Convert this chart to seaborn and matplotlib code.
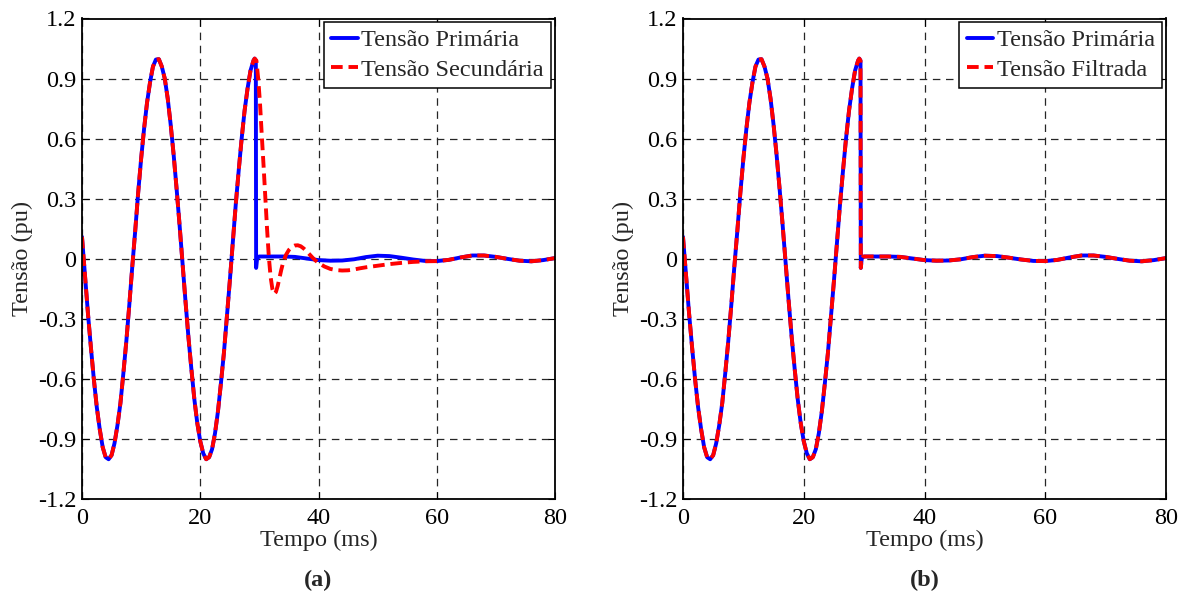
import numpy as np
import pandas as pd
import seaborn as sns
import matplotlib.pyplot as plt

# tempo (ms) e tensao (pu)
t_pre = [0.0, 0.5, 1.0, 1.5, 2.0, 2.5, 3.0, 3.5, 4.0, 4.5, 5.0, 5.5, 6.0, 6.5,
         7.0, 7.5, 8.0, 8.5, 9.0, 9.5, 10.0, 10.5, 11.0, 11.5, 12.0, 12.5,
         13.0, 13.5, 14.0, 14.5, 15.0, 15.5, 16.0, 16.5, 17.0, 17.5, 18.0,
         18.5, 19.0, 19.5, 20.0, 20.5, 21.0, 21.5, 22.0, 22.5, 23.0, 23.5,
         24.0, 24.5, 25.0, 25.5, 26.0, 26.5, 27.0, 27.5, 28.0, 28.5, 29.0, 29.2]
v_pre = [0.11, -0.08, -0.27, -0.44, -0.60, -0.74, -0.85, -0.94, -0.99, -1.00,
         -0.98, -0.92, -0.83, -0.72, -0.57, -0.41, -0.23, -0.04, 0.14, 0.33,
         0.50, 0.65, 0.78, 0.88, 0.96, 0.995, 0.997, 0.96, 0.90, 0.80, 0.67,
         0.52, 0.35, 0.17, -0.02, -0.21, -0.39, -0.55, -0.70, -0.82, -0.91,
         -0.97, -1.00, -0.99, -0.95, -0.87, -0.76, -0.62, -0.47, -0.29, -0.11,
         0.08, 0.27, 0.44, 0.60, 0.74, 0.85, 0.94, 0.99, 1.00]

# tensao primaria depois da falta
t_prim_pos = [29.4, 29.45, 29.6, 29.8, 30, 32, 34, 36, 38, 40, 42, 44, 46, 48,
              50, 52, 54, 56, 58, 60, 62, 64, 66, 68, 70, 72, 74, 76, 78, 80]
v_prim_pos = [0.99, -0.045, 0.0, 0.01, 0.012, 0.012, 0.012, 0.010, 0.002,
              -0.006, -0.009, -0.008, -0.002, 0.009, 0.016, 0.014, 0.006,
              -0.003, -0.010, -0.011, -0.005, 0.007, 0.017, 0.017, 0.010,
              0.000, -0.009, -0.012, -0.006, 0.004]

# tensao secundaria (TP capacitivo) depois da falta
t_sec_pos = [29.5, 29.8, 30.1, 30.4, 30.7, 31.0, 31.3, 31.6, 31.9, 32.2, 32.5,
             32.8, 33.1, 33.4, 33.7, 34.0, 34.5, 35.0, 35.5, 36.0, 36.5, 37.0,
             37.5, 38.0, 38.5, 39.0, 39.5, 40.0, 41.0, 42.0, 43.0, 44.0, 45.0,
             46.0, 47.0, 48.0, 49.0, 50.0, 52.0, 54.0, 56.0, 58.0, 60.0, 62,
             64, 66, 68, 70, 72, 74, 76, 78, 80]
v_sec_pos = [0.99, 0.90, 0.78, 0.62, 0.47, 0.31, 0.15, 0.01, -0.09, -0.15,
             -0.175, -0.165, -0.135, -0.095, -0.055, -0.02, 0.02, 0.045, 0.06,
             0.067, 0.068, 0.063, 0.052, 0.038, 0.022, 0.006, -0.008, -0.02,
             -0.038, -0.05, -0.056, -0.058, -0.057, -0.053, -0.047, -0.042,
             -0.038, -0.034, -0.026, -0.02, -0.015, -0.012, -0.011, -0.005,
             0.007, 0.017, 0.017, 0.010, 0.000, -0.009, -0.012, -0.006, 0.004]

t_prim = t_pre + t_prim_pos
tensao_primaria = v_pre + v_prim_pos
t_sec = t_pre + t_sec_pos
tensao_secundaria = v_pre + v_sec_pos
# tensao filtrada se sobrepoe a primaria
t_filt = t_prim
tensao_filtrada = tensao_primaria

x_ticks = [0, 20, 40, 60, 80]
y_ticks = [-1.2, -0.9, -0.6, -0.3, 0, 0.3, 0.6, 0.9, 1.2]
y_tick_labels = ["-1.2", "-0.9", "-0.6", "-0.3", "0", "0.3", "0.6", "0.9", "1.2"]

sns.set_style("ticks")
plt.rcParams["font.family"] = ["Liberation Serif", "DejaVu Serif"]

FS = 17.5

fig = plt.figure(figsize=(11.89, 5.96), dpi=100)
ax_a = fig.add_axes([82 / 1189, 1 - 499.3 / 596, 473 / 1189, 480.8 / 596])
ax_b = fig.add_axes([683 / 1189, 1 - 499.3 / 596, 483 / 1189, 480.8 / 596])

df_a1 = pd.DataFrame({"t": t_prim, "v": tensao_primaria})
df_a2 = pd.DataFrame({"t": t_sec, "v": tensao_secundaria})
df_b1 = pd.DataFrame({"t": t_prim, "v": tensao_primaria})
df_b2 = pd.DataFrame({"t": t_filt, "v": tensao_filtrada})


def desenha(ax, df1, df2, lab1, lab2, letra, ylab_x):
    sns.lineplot(data=df1, x="t", y="v", ax=ax, color=(0, 0, 1), lw=2.8,
                 label=lab1, estimator=None, sort=False)
    sns.lineplot(data=df2, x="t", y="v", ax=ax, color=(1, 0, 0), lw=2.8,
                 label=lab2, estimator=None, sort=False)
    ax.lines[1].set_dashes((3.0, 1.5))
    ax.set_xlim(0, 80)
    ax.set_ylim(-1.2, 1.2)
    ax.set_xticks(x_ticks)
    ax.set_yticks(y_ticks)
    ax.set_yticklabels(y_tick_labels)
    ax.grid(True, color="0.15", lw=0.9, linestyle=(0, (6, 4.5)))
    for s in ax.spines.values():
        s.set_visible(True)
        s.set_color("black")
        s.set_linewidth(1.3)
    ax.tick_params(direction="in", length=5, width=0.8, labelsize=FS,
                   top=True, right=True, colors="black")
    ax.tick_params(axis="x", pad=6)
    ax.tick_params(axis="y", pad=4)
    ax.set_xlabel("Tempo (ms)", fontsize=FS)
    ax.set_ylabel("Tensão (pu)", fontsize=FS)
    ax.xaxis.set_label_coords(0.5, -0.064)
    ax.yaxis.set_label_coords(ylab_x, 0.5)
    ax.text(0.5, -0.168, letra, transform=ax.transAxes, ha="center",
            va="center", fontsize=FS, fontweight="bold")
    leg = ax.legend(loc="upper right", fontsize=FS, frameon=True,
                    fancybox=False, framealpha=1, edgecolor="black",
                    borderaxespad=0.15, borderpad=0.3, labelspacing=0.3,
                    handlelength=1.1, handletextpad=0.15)
    leg.get_frame().set_linewidth(1.1)


desenha(ax_a, df_a1, df_a2, "Tensão Primária", "Tensão Secundária", "(a)", -0.104)
desenha(ax_b, df_b1, df_b2, "Tensão Primária", "Tensão Filtrada", "(b)", -0.102)

fig.savefig("out.png", dpi=100)
